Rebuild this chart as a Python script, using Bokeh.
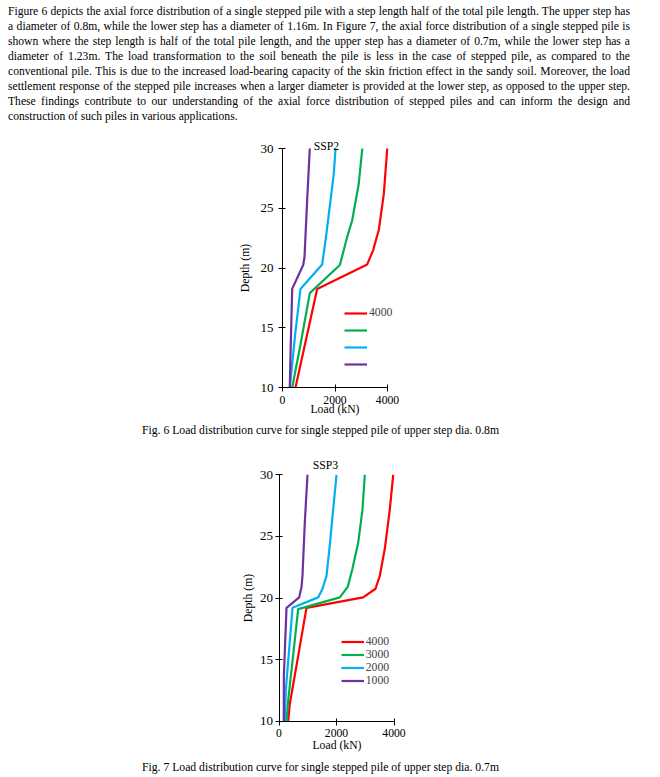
from bokeh.plotting import figure
from bokeh.models import Div, Legend, LegendItem, Label, FixedTicker, Range1d
from bokeh.core.properties import value
from bokeh.layouts import column
from bokeh.embed import file_html
from bokeh.resources import INLINE

FONT = "Liberation Serif"
FS = "11.7px"
FS_Y = "13px"

paragraph_lines = [
    "Figure 6 depicts the axial force distribution of a single stepped pile with a step length half of the total pile length. The upper step has",
    "a diameter of 0.8m, while the lower step has a diameter of 1.16m. In Figure 7, the axial force distribution of a single stepped pile is",
    "shown where the step length is half of the total pile length, and the upper step has a diameter of 0.7m, while the lower step has a",
    "diameter of 1.23m. The load transformation to the soil beneath the pile is less in the case of stepped pile, as compared to the",
    "conventional pile. This is due to the increased load-bearing capacity of the skin friction effect in the sandy soil. Moreover, the load",
    "settlement response of the stepped pile increases when a larger diameter is provided at the lower step, as opposed to the upper step.",
    "These findings contribute to our understanding of the axial force distribution of stepped piles and can inform the design and",
    "construction of such piles in various applications.",
]

series_colors = ["#FF0000", "#00B050", "#00B0F0", "#7030A0"]
x_ticks = [0, 2000, 4000]
y_ticks = [10, 15, 20, 25, 30]
x_bounds = (0, 4000)
y_bounds = (10, 30)

# ---- SSP2 (Fig. 6) ----
ssp2_title = "SSP2"
ssp2_caption = "Fig. 6 Load distribution curve for single stepped pile of upper step dia. 0.8m"
ssp2_legend = ["4000", "", "", ""]
ssp2_4000_depth = [30, 26.2, 23.2, 21.5, 20.3, 18.25, 10]
ssp2_4000_load = [3990, 3860, 3670, 3455, 3226, 1320, 495]
ssp2_3000_depth = [30, 27.05, 24, 22.6, 20.25, 17.9, 13.6, 10]
ssp2_3000_load = [3040, 2905, 2655, 2465, 2185, 1040, 686, 370]
ssp2_2000_depth = [30, 27.9, 22.3, 20.3, 18.25, 14.7, 10]
ssp2_2000_load = [2020, 1955, 1640, 1510, 686, 495, 278]
ssp2_1000_depth = [30, 25.7, 20.9, 20.25, 18.25, 12.75, 10]
ssp2_1000_load = [1040, 940, 838, 788, 369, 305, 278]

# ---- SSP3 (Fig. 7) ----
ssp3_title = "SSP3"
ssp3_caption = "Fig. 7 Load distribution curve for single stepped pile of upper step dia. 0.7m"
ssp3_legend = ["4000", "3000", "2000", "1000"]
ssp3_4000_depth = [30, 27.2, 24, 21.8, 20.75, 20.05, 19.2, 11.4, 10]
ssp3_4000_load = [3972, 3855, 3680, 3506, 3357, 2928, 957, 376, 320]
ssp3_3000_depth = [30, 27.2, 24.5, 22.4, 20.9, 20.05, 19.1, 11.7, 10]
ssp3_3000_load = [2985, 2904, 2755, 2557, 2390, 2115, 667, 320, 261]
ssp3_2000_depth = [30, 27.2, 24.3, 21.8, 20.75, 20.05, 19.2, 12.5, 10]
ssp3_2000_load = [2000, 1885, 1767, 1652, 1513, 1363, 470, 237, 203]
ssp3_1000_depth = [30, 26.15, 21.8, 20.9, 20.05, 19.2, 13.6, 10]
ssp3_1000_load = [991, 898, 817, 783, 702, 261, 168, 168]

WIDTH = 660


def make_chart(series, legend_labels, title, caption, fig_top, fig_bottom,
               ax_left, ax_right, ax_top, ax_bottom,
               ylab_standoff, ylab_axis_standoff, xlab_axis_standoff,
               title_pos, caption_pos, legend_pos, legend_h, legend_sp):
    """Layout parameters are page pixel positions; the frame spans the whole canvas."""
    height = fig_bottom - fig_top
    kx = (x_bounds[1] - x_bounds[0]) / (ax_right - ax_left)
    x_start = x_bounds[0] - ax_left * kx
    x_end = x_bounds[1] + (WIDTH - ax_right) * kx
    ky = (y_bounds[1] - y_bounds[0]) / (ax_bottom - ax_top)
    y_start = y_bounds[0] - (fig_bottom - ax_bottom) * ky
    y_end = y_bounds[1] + (ax_top - fig_top) * ky

    p = figure(width=WIDTH, height=height, x_range=Range1d(x_start, x_end),
               y_range=Range1d(y_start, y_end),
               output_backend="svg", toolbar_location=None, min_border=0,
               min_border_top=0, min_border_left=0, min_border_right=0, min_border_bottom=0)
    p.outline_line_color = None
    p.grid.visible = False
    p.background_fill_color = "white"
    p.border_fill_color = "white"
    items = []
    for (d, l), c, lab in zip(series, series_colors, legend_labels):
        r = p.line(l, d, line_color=c, line_width=2.2)
        items.append(LegendItem(label=value(lab), renderers=[r]))
    for ax in (p.xaxis[0], p.yaxis[0]):
        ax.major_tick_in = 3
        ax.major_tick_out = 4
        ax.minor_tick_line_color = None
        ax.axis_line_color = "black"
        ax.major_tick_line_color = "black"
        ax.major_label_text_font = FONT
        ax.major_label_text_font_size = FS
        ax.major_label_text_color = "black"
        ax.axis_label_text_font = FONT
        ax.axis_label_text_font_size = FS
        ax.axis_label_text_font_style = "normal"
        ax.axis_label_text_color = "black"
    p.yaxis.major_label_text_font_size = FS_Y
    p.xaxis.ticker = FixedTicker(ticks=x_ticks)
    p.yaxis.ticker = FixedTicker(ticks=y_ticks)
    p.xaxis.bounds = x_bounds
    p.yaxis.bounds = y_bounds
    p.xaxis.fixed_location = y_bounds[0]
    p.yaxis.fixed_location = x_bounds[0]
    p.xaxis.axis_label = "Load (kN)"
    p.yaxis.axis_label = "Depth (m)"
    p.xaxis.major_label_standoff = 4
    p.xaxis.axis_label_standoff = xlab_axis_standoff
    p.yaxis.major_label_standoff = ylab_standoff
    p.yaxis.axis_label_standoff = ylab_axis_standoff

    legend = Legend(items=items, location=(legend_pos[0], fig_bottom - legend_pos[1]),
                    padding=0, margin=0,
                    spacing=legend_sp, glyph_width=23, glyph_height=legend_h,
                    label_height=legend_h, label_standoff=2,
                    label_text_font=FONT, label_text_font_size=FS,
                    label_text_line_height=1.0,
                    background_fill_alpha=0, border_line_alpha=0)
    p.add_layout(legend)

    for txt, (px, py) in ((title, title_pos), (caption, caption_pos)):
        p.add_layout(Label(x=px, y=fig_bottom - py, x_units="screen", y_units="screen",
                           text=txt, text_align="center", text_baseline="alphabetic",
                           text_font=FONT, text_font_size=FS, text_color="black"))
    return p


p1 = make_chart(
    [(ssp2_4000_depth, ssp2_4000_load), (ssp2_3000_depth, ssp2_3000_load),
     (ssp2_2000_depth, ssp2_2000_load), (ssp2_1000_depth, ssp2_1000_load)],
    ssp2_legend, ssp2_title, ssp2_caption,
    fig_top=126, fig_bottom=440, ax_left=282, ax_right=387, ax_top=148, ax_bottom=387,
    ylab_standoff=5, ylab_axis_standoff=6, xlab_axis_standoff=-4,
    title_pos=(326, 145.5), caption_pos=(320, 430), legend_pos=(344, 370.7),
    legend_h=14, legend_sp=3)

p2 = make_chart(
    [(ssp3_4000_depth, ssp3_4000_load), (ssp3_3000_depth, ssp3_3000_load),
     (ssp3_2000_depth, ssp3_2000_load), (ssp3_1000_depth, ssp3_1000_load)],
    ssp3_legend, ssp3_title, ssp3_caption,
    fig_top=440, fig_bottom=775, ax_left=278.5, ax_right=393.5, ax_top=474.3, ax_bottom=720.7,
    ylab_standoff=2, ylab_axis_standoff=3, xlab_axis_standoff=-2,
    title_pos=(325, 465), caption_pos=(320, 767), legend_pos=(340.7, 687.2),
    legend_h=13, legend_sp=0)

rows = []
for i, line in enumerate(paragraph_lines):
    align = "left" if i == len(paragraph_lines) - 1 else "justify"
    rows.append(f'<div style="text-align:{align};text-align-last:{align};">{line}</div>')
html = ('<div style="position:relative;top:4px;left:8px;font-family:\'Liberation Serif\';font-size:11.6px;'
        'line-height:15px;color:black;width:622px;">' + "".join(rows) + '</div>')
div = Div(text=html, width=WIDTH, height=126, margin=(0, 0, 0, 0))

layout = column(div, p1, p2, spacing=0)
open("out.html", "w").write(file_html(layout, INLINE))
